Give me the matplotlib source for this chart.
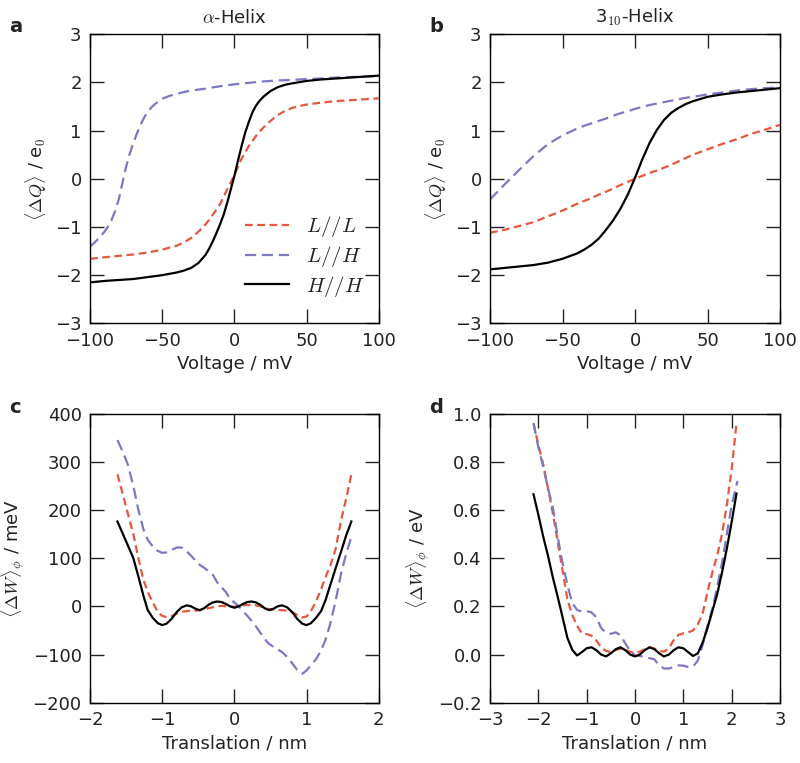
import numpy as np
import matplotlib
matplotlib.use("Agg")
import matplotlib.pyplot as plt

plt.rcParams["font.family"] = ["DejaVu Sans"]
plt.rcParams["mathtext.fontset"] = "cm"
plt.rcParams["font.size"] = 13
plt.rcParams["text.color"] = "#222222"
plt.rcParams["axes.labelcolor"] = "#222222"
plt.rcParams["xtick.color"] = "#222222"
plt.rcParams["ytick.color"] = "#222222"

RED = "#e5573f"
BLUE = "#7b79c2"
BLACK = "black"

# ---- panel a: alpha helix, charge vs voltage ----
volt_a_HH = [-100, -90, -80, -70, -60, -50, -40, -35, -30, -25, -20, -17.5, -15,
             -12.5, -10, -7.5, -5, -2.5, 0, 2.5, 5, 7.5, 10, 12.5, 15, 17.5,
             20, 25, 30, 35, 40, 50, 60, 70, 80, 90, 100]
a_HH = [-2.15, -2.12, -2.10, -2.08, -2.04, -2.00, -1.945, -1.905, -1.85, -1.75,
        -1.58, -1.45, -1.30, -1.13, -0.95, -0.75, -0.50, -0.22, 0.06, 0.38,
        0.68, 0.96, 1.18, 1.38, 1.52, 1.62, 1.70, 1.82, 1.90, 1.95, 1.98,
        2.03, 2.06, 2.08, 2.10, 2.12, 2.14]
volt_a_LL = [-100, -90, -80, -70, -60, -50, -40, -35, -30, -25, -20, -15, -10,
             -5, 0, 5, 10, 15, 20, 25, 30, 35, 40, 45, 50, 60, 70, 80, 90, 100]
a_LL = [-1.66, -1.63, -1.60, -1.57, -1.53, -1.47, -1.39, -1.32, -1.23, -1.10,
        -0.95, -0.75, -0.53, -0.22, 0.08, 0.42, 0.68, 0.89, 1.06, 1.20, 1.32,
        1.41, 1.47, 1.51, 1.54, 1.58, 1.61, 1.63, 1.65, 1.67]
volt_a_LH = [-100, -97.5, -95, -92.5, -90, -87.5, -85, -82.5, -80, -77.5, -75,
             -72.5, -70, -67.5, -65, -62.5, -60, -57.5, -55, -52.5, -50, -45,
             -40, -35, -30, -20, -10, 0, 10, 20, 30, 40, 50, 60, 70, 80, 90, 100]
a_LH = [-1.41, -1.34, -1.27, -1.19, -1.10, -0.99, -0.85, -0.66, -0.42, -0.08,
        0.25, 0.52, 0.74, 0.94, 1.12, 1.27, 1.39, 1.48, 1.55, 1.61, 1.66, 1.72,
        1.76, 1.80, 1.83, 1.87, 1.92, 1.96, 1.99, 2.02, 2.04, 2.05, 2.07, 2.08,
        2.10, 2.11, 2.12, 2.13]

# ---- panel b: 3_10 helix ----
volt_b = [-100, -90, -80, -70, -60, -50, -40, -35, -30, -25, -20, -15, -10, -5,
          0, 5, 10, 15, 20, 25, 30, 35, 40, 50, 60, 70, 80, 90, 100]
b_HH = [-1.88, -1.85, -1.82, -1.79, -1.74, -1.66, -1.55, -1.47, -1.37, -1.24,
        -1.06, -0.86, -0.62, -0.33, 0.02, 0.40, 0.74, 1.01, 1.22, 1.37, 1.47,
        1.55, 1.61, 1.70, 1.75, 1.79, 1.82, 1.85, 1.88]
b_LL = [-1.12, -1.06, -0.98, -0.90, -0.78, -0.66, -0.52, -0.46, -0.40, -0.33,
        -0.27, -0.20, -0.13, -0.065, 0.0, 0.06, 0.12, 0.17, 0.23, 0.29, 0.36,
        0.43, 0.50, 0.61, 0.72, 0.82, 0.93, 1.02, 1.12]
b_LH = [-0.43, -0.12, 0.18, 0.47, 0.72, 0.90, 1.04, 1.10, 1.15, 1.20, 1.25,
        1.31, 1.36, 1.40, 1.45, 1.49, 1.53, 1.56, 1.59, 1.62, 1.65, 1.68, 1.70,
        1.75, 1.79, 1.83, 1.86, 1.88, 1.90]

# ---- panel c: work vs translation (meV) ----
trans_c = [-1.62, -1.55, -1.48, -1.40, -1.33, -1.26, -1.20, -1.13, -1.06, -1.00,
           -0.94, -0.87, -0.80, -0.73, -0.66, -0.60, -0.54, -0.48, -0.42, -0.36,
           -0.30, -0.24, -0.18, -0.12, -0.06, 0.0, 0.06, 0.12, 0.18, 0.24, 0.30,
           0.36, 0.42, 0.48, 0.54, 0.60, 0.66, 0.73, 0.80, 0.87, 0.94, 1.00,
           1.06, 1.13, 1.20, 1.26, 1.33, 1.40, 1.48, 1.55, 1.62]
c_HH = [176, 152, 128, 100, 62, 22, -8, -24, -35, -39, -36, -26, -12, -2, 2,
        0, -5, -8, -4, 3, 8, 10, 9, 5, 0, -3, 0, 5, 9, 10, 8, 3, -4, -8, -5,
        0, 2, -2, -12, -26, -36, -39, -35, -24, -10, 12, 45, 78, 115, 148, 176]
c_LL = [274, 235, 195, 150, 100, 55, 30, 8, -12, -20, -22, -20, -15, -11, -10,
        -9, -9, -8, -6, -4, -2, 0, 1, 0, -1, -1, 1, 2, 3, 3, 2, 0, -4, -6, -7,
        -8, -8, -9, -12, -18, -23, -21, -10, 10, 35, 60, 85, 118, 180, 225, 274]
c_LH = [345, 322, 296, 250, 200, 160, 138, 124, 115, 111, 112, 117, 122, 122,
        114, 105, 95, 86, 80, 73, 66, 50, 40, 30, 15, 8, 0, -10, -20, -30, -42,
        -55, -68, -78, -84, -89, -95, -105, -118, -132, -140, -133, -122, -110,
        -92, -70, -35, 10, 70, 110, 144]

# ---- panel d: work vs translation (eV) ----
trans_d = [-2.10, -2.00, -1.90, -1.80, -1.70, -1.60, -1.50, -1.40, -1.30, -1.20,
           -1.10, -1.00, -0.90, -0.80, -0.70, -0.60, -0.50, -0.40, -0.30, -0.20,
           -0.10, 0.0, 0.10, 0.20, 0.30, 0.40, 0.50, 0.60, 0.70, 0.80, 0.90,
           1.00, 1.10, 1.20, 1.30, 1.40, 1.50, 1.60, 1.70, 1.80, 1.90, 2.00, 2.10]
d_HH = [0.665, 0.58, 0.49, 0.41, 0.32, 0.24, 0.156, 0.07, 0.02, -0.004, 0.010,
        0.026, 0.030, 0.018, 0.0, -0.008, 0.005, 0.022, 0.030, 0.018, 0.0,
        -0.008, 0.0, 0.018, 0.030, 0.022, 0.005, -0.008, 0.0, 0.018, 0.030,
        0.026, 0.010, -0.006, 0.005, 0.05, 0.11, 0.18, 0.25, 0.34, 0.44, 0.55,
        0.668]
d_LL = [0.96, 0.87, 0.79, 0.69, 0.586, 0.47, 0.35, 0.23, 0.165, 0.12, 0.088,
        0.085, 0.078, 0.058, 0.03, 0.015, 0.010, 0.018, 0.025, 0.02, 0.012,
        0.005, 0.012, 0.022, 0.030, 0.025, 0.015, 0.012, 0.025, 0.06, 0.082,
        0.088, 0.092, 0.10, 0.125, 0.17, 0.26, 0.34, 0.41, 0.50, 0.62, 0.77,
        0.96]
trans_d_LH = trans_d[:-1] + [2.12]
d_LH = [0.96, 0.86, 0.78, 0.69, 0.61, 0.49, 0.38, 0.29, 0.215, 0.185, 0.178,
        0.18, 0.175, 0.155, 0.11, 0.09, 0.086, 0.092, 0.08, 0.046, 0.015,
        -0.004, -0.006, -0.010, -0.015, -0.02, -0.045, -0.058, -0.058, -0.052,
        -0.045, -0.046, -0.052, -0.05, -0.025, 0.04, 0.12, 0.19, 0.28, 0.38,
        0.50, 0.62, 0.72]

fig = plt.figure(figsize=(8.0, 7.63), dpi=100)
ax_a = fig.add_axes([0.1125, 0.5762, 0.361, 0.379])
ax_b = fig.add_axes([0.6125, 0.5762, 0.3625, 0.379])
ax_c = fig.add_axes([0.1125, 0.079, 0.361, 0.379])
ax_d = fig.add_axes([0.6125, 0.079, 0.3625, 0.379])

red_dash = (3.5, 2.0)
blue_dash = (5.0, 2.6)


def draw_three(ax, x_ll, y_ll, x_lh, y_lh, x_hh, y_hh):
    ax.plot(x_ll, y_ll, color=RED, lw=1.6, dashes=red_dash, label=r"$L//L$")
    ax.plot(x_lh, y_lh, color=BLUE, lw=1.6, dashes=blue_dash, label=r"$L//H$")
    ax.plot(x_hh, y_hh, color=BLACK, lw=1.6, label=r"$H//H$")


draw_three(ax_a, volt_a_LL, a_LL, volt_a_LH, a_LH, volt_a_HH, a_HH)
draw_three(ax_b, volt_b, b_LL, volt_b, b_LH, volt_b, b_HH)
draw_three(ax_c, trans_c, c_LL, trans_c, c_LH, trans_c, c_HH)
draw_three(ax_d, trans_d, d_LL, trans_d_LH, d_LH, trans_d, d_HH)

for ax in (ax_a, ax_b):
    ax.set_xlim(-100, 100)
    ax.set_ylim(-3, 3)
    ax.set_xticks([-100, -50, 0, 50, 100])
    ax.set_yticks([-3, -2, -1, 0, 1, 2, 3])
    ax.set_xlabel("Voltage / mV")
    ax.set_ylabel(r"$\langle\Delta Q\rangle$ / e$_0$")

ax_c.set_xlim(-2, 2)
ax_c.set_ylim(-200, 400)
ax_c.set_xticks([-2, -1, 0, 1, 2])
ax_c.set_yticks([-200, -100, 0, 100, 200, 300, 400])
ax_c.set_ylabel(r"$\langle\Delta W\rangle_\phi$ / meV")

ax_d.set_xlim(-3, 3)
ax_d.set_ylim(-0.2, 1.0)
ax_d.set_xticks([-3, -2, -1, 0, 1, 2, 3])
ax_d.set_yticks([-0.2, 0.0, 0.2, 0.4, 0.6, 0.8, 1.0])
ax_d.set_yticklabels(["\u22120.2", "0.0", "0.2", "0.4", "0.6", "0.8", "1.0"])
ax_d.set_ylabel(r"$\langle\Delta W\rangle_\phi$ / eV")

for ax in (ax_c, ax_d):
    ax.set_xlabel("Translation / nm")

for ax in (ax_a, ax_b, ax_c, ax_d):
    ax.tick_params(direction="in", length=10, width=1.0, top=True, right=True,
                   labelsize=13, pad=6)
    for s in ax.spines.values():
        s.set_linewidth(1.0)

ax_a.set_title(r"$\alpha$-Helix", fontsize=13, pad=8)
ax_b.set_title(r"3$_{10}$-Helix", fontsize=13, pad=8)

ax_a.legend(loc="lower right", bbox_to_anchor=(1.0, 0.035), frameon=False,
            handlelength=2.1, labelspacing=0.22, fontsize=15, borderaxespad=0.3)

for lab, x, y in (("a", 0.012, 0.965), ("b", 0.537, 0.965),
                  ("c", 0.012, 0.466), ("d", 0.537, 0.466)):
    fig.text(x, y, lab, fontsize=14, fontweight="bold", va="center")

fig.savefig("out.png", dpi=100)
